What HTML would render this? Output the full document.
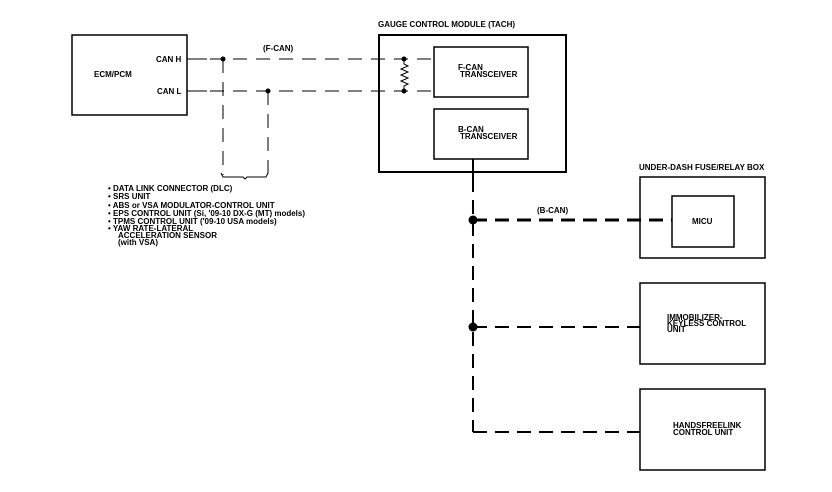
<!DOCTYPE html>
<html><head><meta charset="utf-8"><style>
html,body{margin:0;padding:0;background:#fff;}
svg{display:block;}
text{font-family:"Liberation Sans",sans-serif;font-weight:bold;font-size:8px;fill:#000;}
</style></head><body>
<svg width="832" height="492" viewBox="0 0 832 492" xmlns="http://www.w3.org/2000/svg">
<g fill="none" stroke="#000">
<!-- ECM box -->
<rect x="72" y="35" width="115" height="80" stroke-width="1.5"/>
<!-- GCM -->
<rect x="379" y="35" width="187" height="137" stroke-width="2"/>
<rect x="434" y="47" width="94" height="50" stroke-width="1.5"/>
<rect x="434" y="109" width="94" height="50" stroke-width="1.5"/>
<!-- F-CAN lines -->
<line x1="187" y1="59" x2="434" y2="59" stroke-width="1" stroke-dasharray="14,9"/>
<line x1="187" y1="91" x2="434" y2="91" stroke-width="1" stroke-dasharray="14,9"/>
<line x1="187" y1="59" x2="207" y2="59" stroke-width="1"/>
<line x1="187" y1="91" x2="207" y2="91" stroke-width="1"/>
<line x1="223" y1="59" x2="223" y2="175" stroke-width="1" stroke-dasharray="14,9"/>
<line x1="268" y1="91" x2="268" y2="175" stroke-width="1" stroke-dasharray="14,9"/>
<path d="M221 173 L223 177 L243 177 L245 179 L247 177 L266 177 L268 173" stroke-width="1"/>
<!-- resistor -->
<path d="M404 59 L404 64 L408 66 L401 69 L408 72 L401 75 L408 78 L401 81 L408 84 L404 86 L404 91" stroke-width="1"/>
<!-- B-CAN -->
<line x1="473" y1="159" x2="473" y2="178" stroke-width="2"/>
<line x1="473" y1="178" x2="473" y2="432" stroke-width="2" stroke-dasharray="14,8"/>
<line x1="473" y1="220" x2="672" y2="220" stroke-width="3" stroke-dasharray="14,8"/>
<line x1="473" y1="327" x2="640" y2="327" stroke-width="2" stroke-dasharray="14,8"/>
<line x1="473" y1="432" x2="640" y2="432" stroke-width="2" stroke-dasharray="14,8"/>
<!-- right boxes -->
<rect x="640" y="177" width="125" height="81" stroke-width="1.5"/>
<rect x="672" y="196" width="62" height="51" stroke-width="1.5"/>
<rect x="640" y="283" width="125" height="81" stroke-width="1.5"/>
<rect x="640" y="389" width="125" height="81" stroke-width="1.5"/>
</g>
<g fill="#000">
<circle cx="223" cy="59" r="2.5"/><circle cx="268" cy="91" r="2.5"/>
<circle cx="404" cy="59" r="2.5"/><circle cx="404" cy="91" r="2.5"/>
<circle cx="473" cy="220" r="4.5"/><circle cx="473" cy="327" r="4.5"/>
</g>
<text x="378" y="27">GAUGE CONTROL MODULE (TACH)</text>
<text x="94" y="77">ECM/PCM</text>
<text x="156" y="62">CAN H</text>
<text x="157" y="94">CAN L</text>
<text x="263" y="51">(F-CAN)</text>
<text x="458" y="70">F-CAN</text><text x="460" y="77">TRANSCEIVER</text>
<text x="458" y="132">B-CAN</text><text x="460" y="139">TRANSCEIVER</text>
<text x="537" y="213">(B-CAN)</text>
<text x="639" y="170">UNDER-DASH FUSE/RELAY BOX</text>
<text x="692" y="224">MICU</text>
<text x="667" y="320">IMMOBILIZER-</text><text x="667" y="326">KEYLESS CONTROL</text><text x="667" y="332">UNIT</text>
<text x="673" y="428">HANDSFREELINK</text><text x="673" y="435">CONTROL UNIT</text>
<g style="font-size:7.5px">
<text x="108" y="191">•  DATA LINK CONNECTOR (DLC)</text>
<text x="108" y="199">•  SRS UNIT</text>
<text x="108" y="208">•  ABS or VSA MODULATOR-CONTROL UNIT</text>
<text x="108" y="216">•  EPS CONTROL UNIT (Si, '09-10 DX-G (MT) models)</text>
<text x="108" y="224">•  TPMS CONTROL UNIT ('09-10 USA models)</text>
<text x="108" y="231">•  YAW RATE-LATERAL</text>
<text x="118" y="238">ACCELERATION SENSOR</text>
<text x="118" y="245">(with VSA)</text>
</g>
</svg>
</body></html>
